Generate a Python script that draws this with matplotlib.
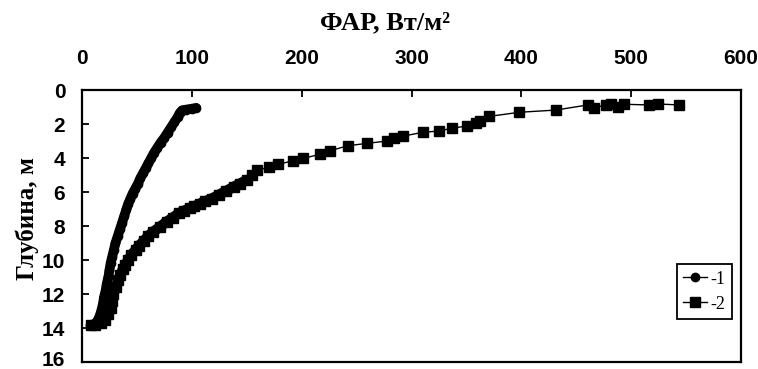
import matplotlib.pyplot as plt
import matplotlib.transforms as mtransforms

# series 1 (circles): PAR, W/m2 vs depth, m
par1 = [104, 100, 95, 91, 89, 87, 84, 81, 78, 75, 71.5, 68.5, 65.5, 63, 60.5,
        58, 55.5, 53, 51, 48.5, 46, 44, 42, 40.5, 38.5, 36.5, 34.5, 32.5, 30.5,
        29, 27.5, 26, 25, 24, 22.5, 21.5, 20, 19, 17.5, 16, 14, 11, 8]
dep1 = [1.05, 1.1, 1.15, 1.2, 1.35, 1.6, 1.9, 2.2, 2.5, 2.8, 3.1, 3.4, 3.7, 4.0,
        4.3, 4.6, 4.9, 5.2, 5.5, 5.8, 6.1, 6.4, 6.7, 7.0, 7.4, 7.8, 8.2, 8.6,
        9.0, 9.4, 9.8, 10.2, 10.6, 11.0, 11.4, 11.8, 12.2, 12.6, 13.0, 13.3,
        13.6, 13.8, 13.85]

# series 2 (squares)
par2 = [543.7, 524, 516.4, 493.6, 487.9, 481.8, 477, 466.6, 460.5, 431.4, 398.3,
        371, 362.5, 359, 350.4, 336.6, 325.4, 310.2, 292.6, 284.4, 278, 259.3,
        242, 225.9, 216.8, 201.6, 192.4, 178.8, 170.6, 159.7, 154.5,
        150, 144, 138, 131, 125, 118, 112, 107, 102, 98, 93, 88, 83, 77, 71,
        65, 60, 56, 52, 49, 45, 42, 39.5, 37.5, 35, 33, 31, 28.5, 27, 26, 24,
        21, 17, 12, 8]
dep2 = [0.88, 0.82, 0.88, 0.84, 0.98, 0.84, 0.88, 1.04, 0.88, 1.18, 1.31,
        1.55, 1.8, 1.92, 2.12, 2.25, 2.41, 2.49, 2.71, 2.84, 3.0, 3.14,
        3.28, 3.57, 3.78, 4.02, 4.16, 4.37, 4.55, 4.71, 5.0,
        5.3, 5.5, 5.7, 5.95, 6.15, 6.4, 6.55, 6.7, 6.85, 6.96, 7.1, 7.25, 7.5,
        7.75, 8.05, 8.33, 8.6, 8.9, 9.15, 9.4, 9.7, 10.0, 10.3, 10.5, 10.9,
        11.2, 11.6, 12.0, 12.4, 12.8, 13.2, 13.5, 13.7, 13.8, 13.85]

fig = plt.figure(figsize=(7.58, 3.69), dpi=100)
ax = fig.add_axes([82/758, 1-362/369, 659/758, 272/369])

# thick underlay where the markers sit close together
ax.plot(par1, dep1, color='black', lw=7, solid_capstyle='round')
ax.plot(par2[31:], dep2[31:], color='black', lw=7.5, solid_capstyle='round')
ax.plot(par1, dep1, '-o', color='black', lw=1, ms=6, label='-1')
ax.plot(par2, dep2, '-s', color='black', lw=1, ms=7, label='-2')

ax.set_xlim(0, 600)
ax.set_ylim(16, 0)
ax.set_xticks([0, 100, 200, 300, 400, 500, 600])
ax.set_yticks([0, 2, 4, 6, 8, 10, 12, 14, 16])
ax.xaxis.tick_top()
ax.tick_params(axis='x', direction='in', length=5, width=1.3, pad=16,
               top=True, bottom=False)
ax.tick_params(axis='y', direction='in', length=5, width=1.3, pad=12,
               left=True, right=False)
for lab in ax.get_xticklabels() + ax.get_yticklabels():
    lab.set_fontfamily('Liberation Sans')
    lab.set_fontweight('bold')
    lab.set_fontsize(15)
for lab in ax.get_yticklabels():
    lab.set_verticalalignment('center_baseline')
for s in ax.spines.values():
    s.set_linewidth(1.6)

# nudge the bottom label up so it stays inside the image
last = ax.get_yticklabels()[-1]
last.set_transform(last.get_transform() +
                   mtransforms.ScaledTranslation(0, 3/100, fig.dpi_scale_trans))

fig.text(385/758, 1-23/369, 'ФАР, Вт/м²', ha='center', va='center',
         family='Liberation Serif', weight='bold', fontsize=19)
fig.text(27/758, 1-218/369, 'Глубина, м', ha='center', va='center', rotation=90,
         family='Liberation Serif', weight='bold', fontsize=18)

leg = ax.legend(loc='lower right', bbox_to_anchor=(0.986, 0.158), borderaxespad=0,
                fancybox=False, edgecolor='black', framealpha=1,
                handlelength=1.3, handletextpad=0.2, borderpad=0.35,
                labelspacing=0.45, prop={'family': 'Liberation Serif', 'size': 13})
leg.get_frame().set_linewidth(1.3)

plt.savefig('out.png', dpi=100)
